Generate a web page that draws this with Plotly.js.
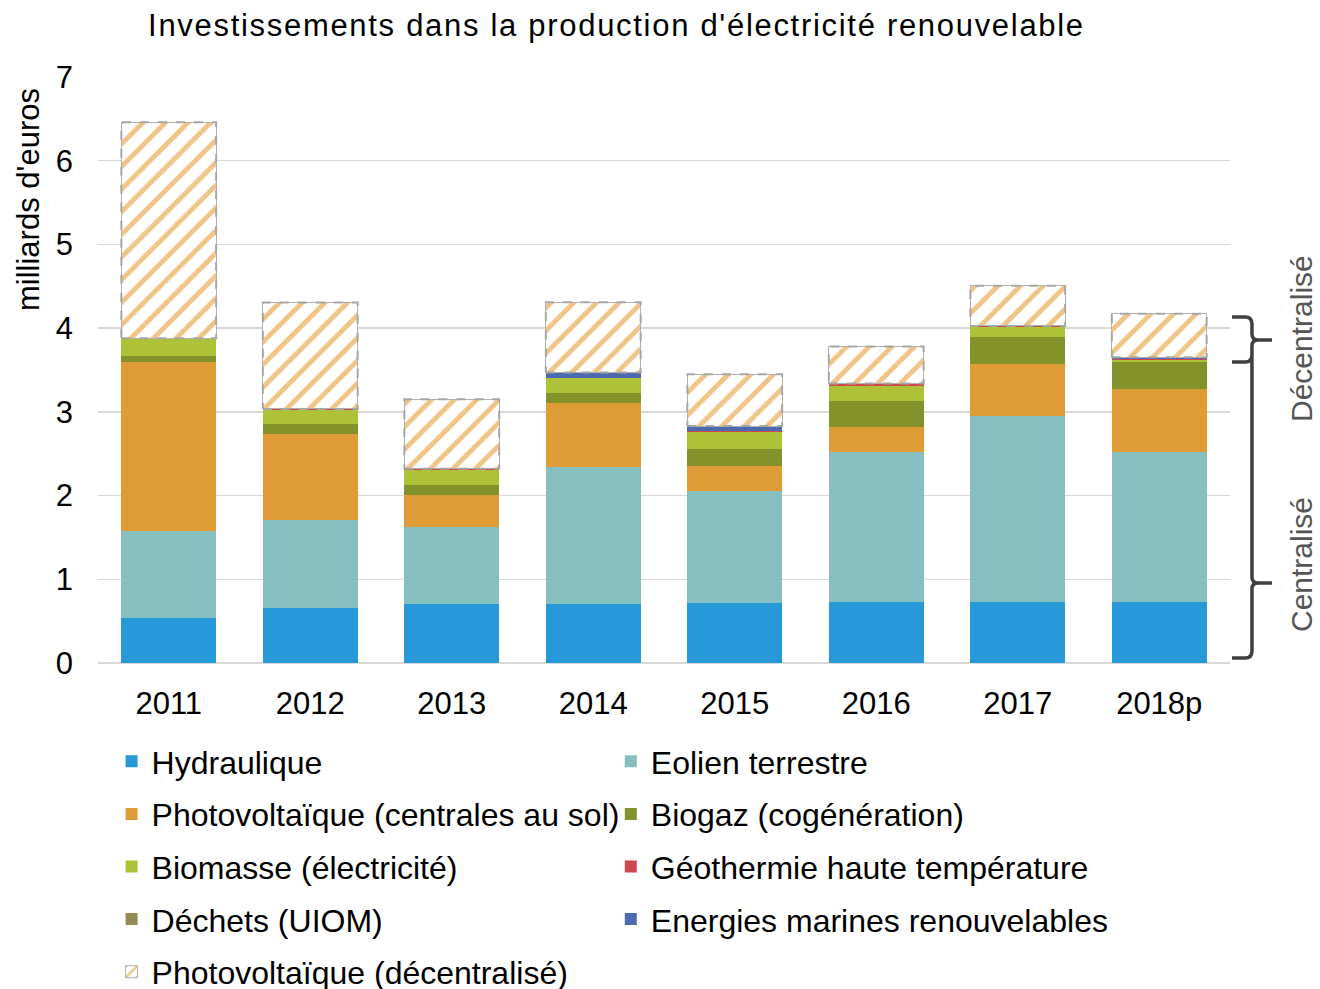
<!DOCTYPE html>
<html>
<head>
<meta charset="utf-8">
<script src="https://cdn.plot.ly/plotly-3.0.1.min.js"></script>
<style>
  body { margin: 0; background: #fff; }
  .gtitle { letter-spacing: 1.7px; }
</style>
</head>
<body>
<div id="chart" style="width:1320px;height:989px;"></div>
<script>
// milliards d'euros
var years = ['2011', '2012', '2013', '2014', '2015', '2016', '2017', '2018p'];
var hydraulique = [0.54, 0.66, 0.71, 0.71, 0.72, 0.73, 0.73, 0.73];
var eolien = [1.04, 1.05, 0.91, 1.63, 1.34, 1.79, 2.22, 1.79];
var pvSol = [2.01, 1.03, 0.39, 0.76, 0.29, 0.30, 0.62, 0.75];
var biogaz = [0.08, 0.11, 0.12, 0.12, 0.21, 0.31, 0.33, 0.32];
var biomasse = [0.21, 0.17, 0.17, 0.18, 0.20, 0.18, 0.11, 0.03];
var geothermie = [0, 0.015, 0.02, 0.01, 0.01, 0.02, 0.016, 0.012];
var dechets = [0, 0, 0, 0, 0, 0, 0, 0];
var marines = [0, 0, 0, 0.06, 0.06, 0.01, 0, 0.02];
var pvDecentral = [2.58, 1.27, 0.83, 0.84, 0.62, 0.44, 0.48, 0.52];

var xs = years.map(function (d, i) { return i; });
var barW = 0.67;
var font = 'Liberation Sans, Arial, sans-serif';

function bar(name, values, color, legend) {
  return {
    type: 'bar', name: name, x: xs, y: values, width: barW,
    marker: { color: color, line: { width: 0 } },
    legend: legend, legendgroup: name, hoverinfo: 'y+name'
  };
}

var traces = [
  bar('Hydraulique', hydraulique, '#2899d8', 'legend'),
  bar('Eolien terrestre', eolien, '#87bfc0', 'legend2'),
  bar('Photovoltaïque (centrales au sol)', pvSol, '#df9c36', 'legend'),
  bar('Biogaz (cogénération)', biogaz, '#84922b', 'legend2'),
  bar('Biomasse (électricité)', biomasse, '#adc236', 'legend'),
  bar('Géothermie haute température', geothermie, '#d0484f', 'legend2'),
  bar('Déchets (UIOM)', dechets, '#948b54', 'legend'),
  bar('Energies marines renouvelables', marines, '#4a6bb0', 'legend2')
];

var pvDec = bar('Photovoltaïque (décentralisé)', pvDecentral, '#ffffff', 'legend');
pvDec.marker.pattern = { shape: '/', fgcolor: '#f0c486', bgcolor: '#ffffff', size: 16, solidity: 0.3 };
pvDec.marker.line = { width: 1, color: '#b0b0b0' };
traces.push(pvDec);

// dashed outline around the decentralised part
var ox = [], oy = [];
xs.forEach(function (x, i) {
  var base = hydraulique[i] + eolien[i] + pvSol[i] + biogaz[i] + biomasse[i] +
    geothermie[i] + dechets[i] + marines[i];
  var top = base + pvDecentral[i];
  var l = x - barW / 2, r = x + barW / 2;
  ox.push(l, r, r, l, l, null);
  oy.push(base, base, top, top, base, null);
});
traces.push({
  type: 'scatter', mode: 'lines', x: ox, y: oy, showlegend: false, hoverinfo: 'skip',
  line: { color: '#a6a6a6', width: 2, dash: 'dash' }
});

// pixel helpers for the braces on the right
var L = 98, R = 1230, T = 77, B = 663;
function px(x) { return (x - L) / (R - L); }
function py(y) { return (B - y) / (B - T); }
function p(x, y) { return px(x).toFixed(4) + ',' + py(y).toFixed(4); }
var brace = 'M' + p(1232, 317) + ' L' + p(1245, 317) + ' Q' + p(1252, 317) + ' ' + p(1252, 324) +
  ' L' + p(1252, 334) + ' Q' + p(1252, 340) + ' ' + p(1258, 340) + ' L' + p(1272, 340) +
  ' M' + p(1258, 340) + ' Q' + p(1252, 340) + ' ' + p(1252, 346) + ' L' + p(1252, 577) +
  ' Q' + p(1252, 583) + ' ' + p(1258, 583) + ' L' + p(1272, 583) +
  ' M' + p(1258, 583) + ' Q' + p(1252, 583) + ' ' + p(1252, 589) + ' L' + p(1252, 651) +
  ' Q' + p(1252, 658) + ' ' + p(1245, 658) + ' L' + p(1232, 658) +
  ' M' + p(1232, 362) + ' L' + p(1245, 362) + ' Q' + p(1252, 362) + ' ' + p(1252, 355);

var legendBase = {
  orientation: 'v', traceorder: 'grouped', tracegroupgap: 8,
  font: { family: font, size: 32, color: '#000' },
  xanchor: 'left', yanchor: 'top', y: py(734), bgcolor: 'rgba(0,0,0,0)'
};

var layout = {
  width: 1320, height: 989, autosize: false,
  margin: { l: L, r: 1320 - R, t: T, b: 989 - B, autoexpand: false },
  paper_bgcolor: '#fff', plot_bgcolor: '#fff',
  font: { family: font, color: '#000' },
  title: {
    text: "Investissements dans la production d'électricité renouvelable",
    font: { family: font, size: 31, color: '#000' },
    xref: 'container', x: 0.467, xanchor: 'center', yref: 'container', y: 0.975, yanchor: 'middle'
  },
  barmode: 'stack',
  xaxis: {
    range: [-0.5, 7.5], tickvals: xs, ticktext: years, showgrid: false, zeroline: false,
    showline: false, ticks: '', tickfont: { size: 31 }, ticklabelstandoff: 19, fixedrange: true
  },
  yaxis: {
    range: [0, 7], dtick: 1, gridcolor: '#d9d9d9', gridwidth: 1.5, zeroline: true,
    zerolinecolor: '#d9d9d9', zerolinewidth: 2, showline: false, ticks: '',
    tickfont: { size: 31 }, ticklabelstandoff: 24, fixedrange: true
  },
  legend: Object.assign({}, legendBase, { x: 0.012 }),
  legend2: Object.assign({}, legendBase, { x: 0.453 }),
  shapes: [{ type: 'path', xref: 'paper', yref: 'paper', path: brace, line: { color: '#404040', width: 3.5 } }],
  annotations: [
    { text: "milliards d'euros", xref: 'paper', yref: 'paper', x: px(28), y: py(200), xanchor: 'center', yanchor: 'middle',
      textangle: -90, showarrow: false, font: { family: font, size: 31, color: '#000' } },
    { text: 'Décentralisé', xref: 'paper', yref: 'paper', x: px(1301), y: py(339),
      xanchor: 'center', yanchor: 'middle', textangle: -90, showarrow: false, font: { family: font, size: 30, color: '#555' } },
    { text: 'Centralisé', xref: 'paper', yref: 'paper', x: px(1301), y: py(565),
      xanchor: 'center', yanchor: 'middle', textangle: -90, showarrow: false, font: { family: font, size: 30, color: '#555' } }
  ]
};

Plotly.newPlot('chart', traces, layout, { displayModeBar: false, staticPlot: true });
</script>
</body>
</html>
